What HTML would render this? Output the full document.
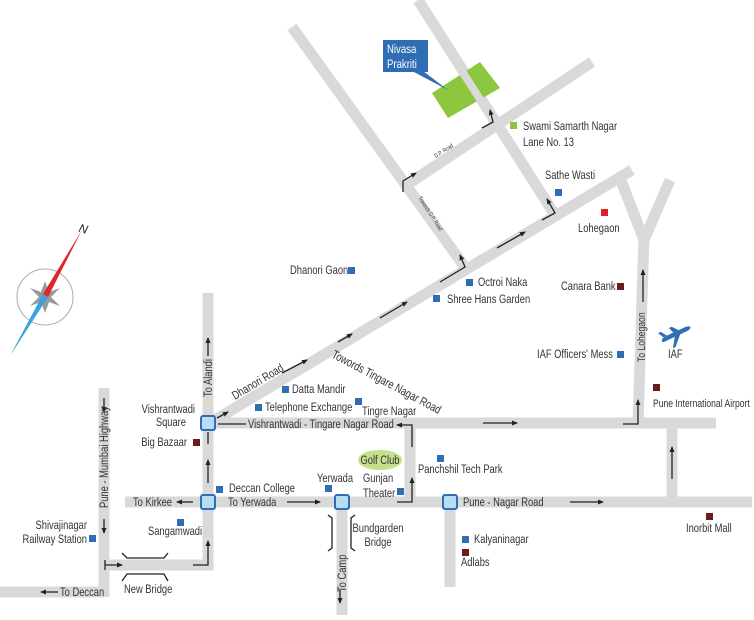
<!DOCTYPE html>
<html><head><meta charset="utf-8"><style>
html,body{margin:0;padding:0;background:#fff;}
svg{display:block;}
text{font-family:"Liberation Sans",sans-serif;fill:#333;font-size:12px;}
</style></head><body>
<svg width="754" height="620" viewBox="0 0 754 620" xmlns="http://www.w3.org/2000/svg">
<defs>
<marker id="ah" markerWidth="6" markerHeight="6" refX="5" refY="3" orient="auto" markerUnits="userSpaceOnUse">
<path d="M0,0.5 L6,3 L0,5.5 z" fill="#222"/></marker>
</defs>
<g stroke="#d9d9d9" stroke-width="11" fill="none" stroke-linecap="butt">
<line x1="292" y1="27" x2="467" y2="270"/>
<line x1="418" y1="0" x2="555" y2="215"/>
<line x1="405" y1="186" x2="592" y2="62"/>
<line x1="210" y1="423" x2="632" y2="170"/>
<line x1="638" y1="424" x2="644" y2="236"/>
<line x1="644" y1="240" x2="620" y2="178"/>
<line x1="644" y1="240" x2="670" y2="180"/>
<line x1="210" y1="423" x2="716" y2="423"/>
<line x1="208" y1="293" x2="208" y2="570"/>
<line x1="104" y1="388" x2="104" y2="597"/>
<line x1="0" y1="592" x2="104" y2="592"/>
<line x1="104" y1="565" x2="213" y2="565"/>
<line x1="125" y1="502" x2="752" y2="502"/>
<line x1="342" y1="502" x2="342" y2="615"/>
<line x1="410" y1="423" x2="410" y2="502"/>
<line x1="450" y1="502" x2="450" y2="587"/>
<line x1="672" y1="423" x2="672" y2="502"/>
</g>
<polygon points="432,93 480,62 500,88 448,118" fill="#8dc63f"/>
<line x1="460" y1="68" x2="483" y2="104" stroke="#d9d9d9" stroke-width="8"/>
<rect x="383" y="40" width="45" height="32" fill="#2f6eb5"/>
<polygon points="412,71 423,71 448,90" fill="#2f6eb5"/>
<text transform="translate(387,53) scale(0.8,1)" style="fill:#fff">Nivasa</text>
<text transform="translate(387,68) scale(0.8,1)" style="fill:#fff">Prakriti</text>
<g fill="#b9dcf5" stroke="#2f6eb5" stroke-width="2">
<rect x="201" y="416" width="14" height="14" rx="2"/>
<rect x="201" y="495" width="14" height="14" rx="2"/>
<rect x="335" y="495" width="14" height="14" rx="2"/>
<rect x="443" y="495" width="14" height="14" rx="2"/>
</g>
<g stroke="#222" stroke-width="1.3" fill="none" marker-end="url(#ah)">
<line x1="217" y1="418" x2="228" y2="412"/>
<line x1="282" y1="373" x2="307" y2="360"/>
<line x1="338" y1="342" x2="352" y2="334"/>
<line x1="380" y1="318" x2="407" y2="302"/>
<line x1="497" y1="248" x2="525" y2="232"/>
<polyline points="440,282 465,267 460,255"/>
<polyline points="542,220 555,213 547,199"/>
<polyline points="403,192 403,181 416,173"/>
<polyline points="482,128 493,122 490,110"/>
<line x1="208" y1="356" x2="208" y2="338"/>
<line x1="208" y1="483" x2="208" y2="460"/>
<polyline points="193,565 208,565 208,541"/>
<line x1="193" y1="502" x2="177" y2="502"/>
<line x1="287" y1="502" x2="320" y2="502"/>
<polyline points="397,502 412,502 412,478"/>
<polyline points="412,447 412,425 397,425"/>
<line x1="483" y1="423" x2="517" y2="423"/>
<polyline points="623,424 638,424 638,400"/>
<line x1="643" y1="302" x2="643" y2="270"/>
<line x1="672" y1="479" x2="672" y2="447"/>
<line x1="570" y1="502" x2="603" y2="502"/>
<line x1="104" y1="398" x2="104" y2="412"/>
<line x1="104" y1="519" x2="104" y2="533"/>
<polyline points="105,560 105,570 105,565 122,565"/>
<line x1="340" y1="590" x2="340" y2="603"/>
<line x1="58" y1="592" x2="41" y2="592"/>
</g>
<line x1="218" y1="424" x2="246" y2="424" stroke="#222" stroke-width="1.3"/>
<line x1="208" y1="432" x2="208" y2="444" stroke="#222" stroke-width="1.3"/>
<g stroke="#222" stroke-width="1.3" fill="none">
<polyline points="122,553 127,558 164,558 168,553"/>
<polyline points="122,581 127,574 164,574 168,581"/>
<polyline points="328,515 332,518 332,548 328,551"/>
<polyline points="355,515 351,518 351,548 355,551"/>
</g>
<g fill="#2f6eb5">
<rect x="510" y="122" width="7" height="7" fill="#8dc63f"/>
<rect x="555" y="189" width="7" height="7"/>
<rect x="601" y="209" width="7" height="7" fill="#e31e24"/>
<rect x="348" y="267" width="7" height="7"/>
<rect x="466" y="279" width="7" height="7"/>
<rect x="433" y="295" width="7" height="7"/>
<rect x="617" y="283" width="7" height="7" fill="#6b1b1b"/>
<rect x="617" y="351" width="7" height="7"/>
<rect x="653" y="384" width="7" height="7" fill="#6b1b1b"/>
<rect x="282" y="386" width="7" height="7"/>
<rect x="255" y="404" width="7" height="7"/>
<rect x="355" y="398" width="7" height="7"/>
<rect x="193" y="439" width="7" height="7" fill="#6b1b1b"/>
<rect x="437" y="455" width="7" height="7"/>
<rect x="325" y="485" width="7" height="7"/>
<rect x="397" y="488" width="7" height="7"/>
<rect x="216" y="486" width="7" height="7"/>
<rect x="177" y="519" width="7" height="7"/>
<rect x="462" y="536" width="7" height="7"/>
<rect x="462" y="549" width="7" height="7" fill="#6b1b1b"/>
<rect x="706" y="513" width="7" height="7" fill="#6b1b1b"/>
<rect x="89" y="535" width="7" height="7"/>
</g>
<ellipse cx="380" cy="460" rx="22" ry="10" fill="#c5e08a"/>
<g fill="#2f6eb5" transform="translate(675,334) rotate(-25)">
<path d="M-15,1 Q-14,-2 -9,-2 L13,-2 Q17,-1 17,0.5 Q16,2 13,2.5 L-10,2.5 Q-15,3 -15,1 z"/>
<path d="M-1,2 L5,2 L-5,12 L-8,12 z"/>
<path d="M-1,-2 L5,-2 L0,-8 L-3,-8 z"/>
<path d="M-12,-2 L-8,-2 L-12,-8 L-15,-8 z"/>
</g>
<circle cx="45" cy="297" r="28" fill="none" stroke="#aaa" stroke-width="1"/>
<polygon points="45,281 49,292 60,288 51,297 60,306 49,302 45,313 41,302 30,306 39,297 30,288 41,292" fill="#999"/>
<polygon points="82,230 48,297 43,294" fill="#e0252b"/>
<polygon points="43,294 48,297 10,356" fill="#3aa2dc"/>
<text x="79" y="233" style="font-size:12px;font-style:italic;fill:#222" transform="rotate(15 84 229)">N</text>
<g>
<text transform="translate(523,130) scale(0.78,1)">Swami Samarth Nagar</text>
<text transform="translate(523,146) scale(0.78,1)">Lane No. 13</text>
<text transform="translate(545,179) scale(0.78,1)">Sathe Wasti</text>
<text transform="translate(578,232) scale(0.78,1)">Lohegaon</text>
<text transform="translate(290,274) scale(0.78,1)">Dhanori Gaon</text>
<text transform="translate(478,286) scale(0.78,1)">Octroi Naka</text>
<text transform="translate(447,303) scale(0.78,1)">Shree Hans Garden</text>
<text transform="translate(561,290) scale(0.78,1)">Canara Bank</text>
<text transform="translate(537,358) scale(0.78,1)">IAF Officers' Mess</text>
<text transform="translate(668,358) scale(0.78,1)">IAF</text>
<text transform="translate(653,407) scale(0.78,1)" style="font-size:11px">Pune International Airport</text>
<text transform="translate(292,393) scale(0.78,1)">Datta Mandir</text>
<text transform="translate(265,411) scale(0.78,1)">Telephone Exchange</text>
<text transform="translate(362,415) scale(0.78,1)">Tingre Nagar</text>
<text transform="translate(195,413) scale(0.78,1)" text-anchor="end">Vishrantwadi</text>
<text transform="translate(186,426) scale(0.78,1)" text-anchor="end">Square</text>
<text transform="translate(187,446) scale(0.78,1)" text-anchor="end">Big Bazaar</text>
<text transform="translate(248,428) scale(0.78,1)">Vishrantwadi - Tingare Nagar Road</text>
<text transform="translate(380,464) scale(0.78,1)" text-anchor="middle">Golf Club</text>
<text transform="translate(418,473) scale(0.78,1)">Panchshil Tech Park</text>
<text transform="translate(317,482) scale(0.78,1)">Yerwada</text>
<text transform="translate(363,482) scale(0.78,1)">Gunjan</text>
<text transform="translate(363,497) scale(0.78,1)">Theater</text>
<text transform="translate(229,492) scale(0.78,1)">Deccan College</text>
<text transform="translate(133,506) scale(0.78,1)">To Kirkee</text>
<text transform="translate(228,506) scale(0.78,1)">To Yerwada</text>
<text transform="translate(148,535) scale(0.78,1)">Sangamwadi</text>
<text transform="translate(378,532) scale(0.78,1)" text-anchor="middle">Bundgarden</text>
<text transform="translate(378,546) scale(0.78,1)" text-anchor="middle">Bridge</text>
<text transform="translate(463,506) scale(0.78,1)">Pune - Nagar Road</text>
<text transform="translate(474,543) scale(0.78,1)">Kalyaninagar</text>
<text transform="translate(461,566) scale(0.78,1)">Adlabs</text>
<text transform="translate(686,532) scale(0.78,1)">Inorbit Mall</text>
<text transform="translate(87,529) scale(0.78,1)" text-anchor="end">Shivajinagar</text>
<text transform="translate(87,543) scale(0.78,1)" text-anchor="end">Railway Station</text>
<text transform="translate(124,593) scale(0.78,1)">New Bridge</text>
<text transform="translate(60,596) scale(0.78,1)">To Deccan</text>
<text transform="translate(212,397) rotate(-90) scale(0.78,1)">To Alandi</text>
<text transform="translate(108,508) rotate(-90) scale(0.78,1)">Pune - Mumbai Highway</text>
<text transform="translate(346,592) rotate(-90) scale(0.78,1)">To Camp</text>
<text transform="translate(645,362) rotate(-90) scale(0.78,1)" style="font-size:11px">To Lohegaon</text>
<text transform="translate(235,400) rotate(-31) scale(0.78,1)">Dhanori Road</text>
<text transform="translate(331,357) rotate(28) scale(0.78,1)">Towords Tingare Nagar Road</text>
<text transform="translate(436,158) rotate(-33) scale(0.78,1)" style="font-size:6px">D.P. Road</text>
<text transform="translate(418,198) rotate(57) scale(0.78,1)" style="font-size:6px">Towords D.P. Road</text>
</g>
</svg>
</body></html>
